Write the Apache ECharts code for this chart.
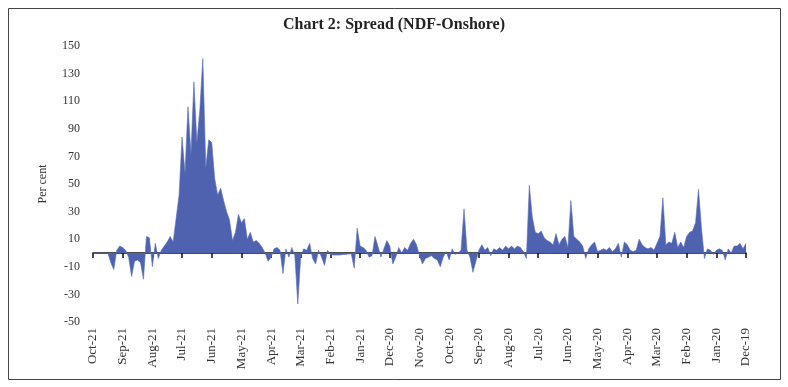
<!DOCTYPE html>
<html>
<head>
<meta charset="utf-8">
<script src="https://cdn.jsdelivr.net/npm/echarts@6/dist/echarts.min.js"></script>
<style>
html,body{margin:0;padding:0;background:#fff;}
#chart{width:788px;height:387px;}
</style>
</head>
<body>
<div id="chart"></div>
<script>
// Month tick labels (left = latest, right = earliest)
const monthLabels = ['Oct-21','Sep-21','Aug-21','Jul-21','Jun-21','May-21','Apr-21','Mar-21','Feb-21','Jan-21','Dec-20','Nov-20','Oct-20','Sep-20','Aug-20','Jul-20','Jun-20','May-20','Apr-20','Mar-20','Feb-20','Jan-20','Dec-19'];
const yTicks = [-50,-30,-10,10,30,50,70,90,110,130,150];

const spOct21 = [0, 0, 0, 0, 0, 0, -7, -12, 2, 5];
const spSep21 = [4, 2, -3, -17, -6, -5, -7, -19, 12, 11];
const spAug21 = [-10, 7, -4, 2, 5, 8, 12, 8, 25, 42];
const spJul21 = [84, 58, 106, 72, 124, 80, 104, 141, 62, 82];
const spJun21 = [80, 54, 42, 47, 38, 30, 24, 9, 15, 28];
const spMay21 = [22, 25, 10, 15, 8, 9, 7, 4, 0, -6];
const spApr21 = [-3, 3, 4, 2, -15, 3, -3, 4, -2, -37];
const spMar21 = [-2, 3, 2, 7, -4, -8, 2, -3, -9, 2];
const spFeb21 = [-1, -1.5, -1.5, -1.5, -1.2, -1, -0.8, -0.5, -11, 18];
const spJan21 = [5, 4, 2, -3, -2, 12, 5, -3, 3, 9];
const spDec20 = [5, -8, -3, 4, 0, 4, 2, 7, 10, 6];
const spNov20 = [-2, -8, -4, -3, -2, -4, -5, -10, -3, 1];
const spOct20 = [-5, 3, -1, 0, 2, 32, 2, -3, -14, -6];
const spSep20 = [2, 6, 2, 4, -2, 3, 2, 4, 2, 5];
const spAug20 = [3, 5, 3, 5, 4, 1, -4, 49, 26, 15];
const spJul20 = [14, 16, 11, 9, 8, 6, 14, 6, 10, 12];
const spJun20 = [4, 38, 12, 10, 8, 5, -4, 3, 6, 8];
const spMay20 = [1, 2, 3, 2, 4, 1, 3, 7, -3, 8];
const spApr20 = [6, 2, 1, 2, 10, 6, 4, 3, 4, 2];
const spMar20 = [7, 12, 40, 6, 8, 7, 15, 4, 8, 4];
const spFeb20 = [12, 15, 16, 22, 46, 18, -4, 3, 2, -1];
const spJan20 = [2, 3, 2, -5, 3, 0, 5, 5, 7, 3];
const spDec19 = [7];

const monthSeries = [spOct21, spSep21, spAug21, spJul21, spJun21, spMay21, spApr21, spMar21, spFeb21, spJan21, spDec20, spNov20, spOct20, spSep20, spAug20, spJul20, spJun20, spMay20, spApr20, spMar20, spFeb20, spJan20, spDec19];

const categories = [];
const values = [];
monthSeries.forEach((arr, k) => {
  arr.forEach((v, i) => {
    categories.push(i === 0 ? monthLabels[k] : monthLabels[k] + '#' + i);
    values.push(v);
  });
});

const serif = '"Liberation Serif", "DejaVu Serif", serif';
const chart = echarts.init(document.getElementById('chart'), null, {renderer: 'canvas'});
chart.setOption({
  backgroundColor: '#ffffff',
  animation: false,
  title: {
    text: 'Chart 2: Spread (NDF-Onshore)',
    left: 'center',
    top: 12,
    textStyle: {fontFamily: serif, fontSize: 16, fontWeight: 'bold', color: '#222'}
  },
  graphic: [{
    type: 'rect',
    shape: {x: 8.5, y: 8.5, width: 772, height: 371},
    style: {fill: 'none', stroke: '#444', lineWidth: 1},
    silent: true
  }],
  grid: {left: 93, right: 42, top: 46, bottom: 65},
  xAxis: [{
    type: 'category',
    data: categories,
    boundaryGap: false,
    position: 'bottom',
    axisLine: {show: false, onZero: false},
    axisTick: {show: false},
    splitLine: {show: false},
    axisLabel: {
      rotate: 90,
      interval: 9,
      margin: 6,
      fontFamily: serif,
      fontSize: 13,
      color: '#333',
      formatter: v => v.split('#')[0]
    }
  }, {
    type: 'category',
    data: categories,
    boundaryGap: false,
    position: 'bottom',
    axisLine: {show: true, onZero: true, lineStyle: {color: '#111', width: 1.5}},
    axisTick: {show: true, interval: 9, length: 5, lineStyle: {color: '#111', width: 1.5}},
    axisLabel: {show: false},
    splitLine: {show: false}
  }],
  yAxis: {
    type: 'value',
    min: -50,
    max: 150,
    interval: 20,
    name: 'Per cent',
    nameLocation: 'middle',
    nameGap: 44,
    nameTextStyle: {fontFamily: serif, fontSize: 12, color: '#333'},
    axisLine: {show: false},
    axisTick: {show: false},
    splitLine: {show: false},
    axisLabel: {
      margin: 13,
      fontFamily: serif,
      fontSize: 12,
      color: '#333',
      customValues: yTicks
    }
  },
  series: [{
    type: 'line',
    xAxisIndex: 0,
    data: values,
    symbol: 'none',
    smooth: false,
    lineStyle: {width: 0.6, color: '#5b6dba'},
    areaStyle: {color: '#4f62b0', opacity: 1}
  }]
});
</script>
</body>
</html>
